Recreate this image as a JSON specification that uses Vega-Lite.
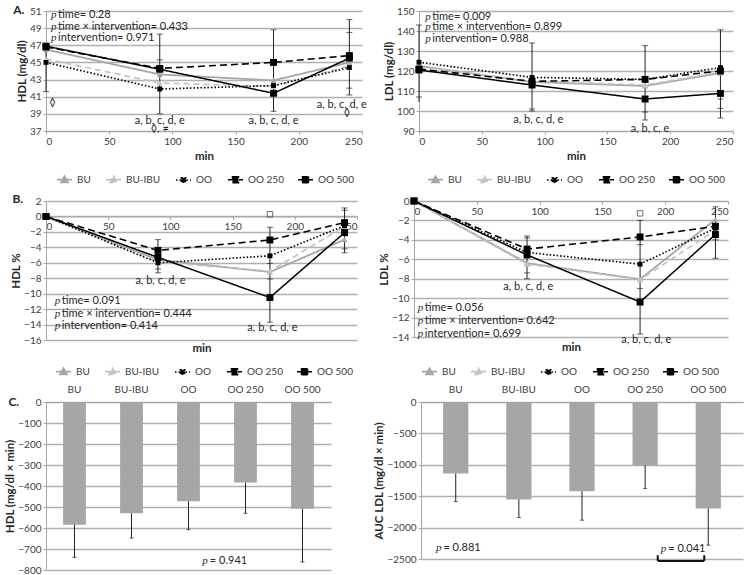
{
"$schema": "https://vega.github.io/schema/vega-lite/v6.json",
"padding": {"left": 4, "top": 4, "right": 2, "bottom": 2},
"config": {
  "font": "Lato",
  "view": {"stroke": null},
  "axis": {"labelFontSize": 10, "labelColor": "#404040", "titleFontSize": 11.5, "titleColor": "#262626", "titleFontWeight": "bold", "domainColor": "#a6a6a6", "tickColor": "#a6a6a6", "gridColor": "#b0b0b0", "gridWidth": 1.3, "labelPadding": 2, "titlePadding": 2},
  "legend": {"labelFontSize": 10, "labelColor": "#404040", "symbolStrokeWidth": 1.5, "symbolSize": 225, "columnPadding": 11, "labelOffset": 4, "symbolType": "M-1,0H1M-0.4,-0.4H0.4V0.4H-0.4Z"},
  "text": {"font": "Lato", "fontSize": 11, "color": "#262626"}
},
"datasets": {
  "hdl": [
    {"g": "BU", "t": 0, "v": 46.5}, {"g": "BU", "t": 90, "v": 43.6}, {"g": "BU", "t": 180, "v": 42.9}, {"g": "BU", "t": 240, "v": 45.0},
    {"g": "BU-IBU", "t": 0, "v": 45.4}, {"g": "BU-IBU", "t": 90, "v": 42.6}, {"g": "BU-IBU", "t": 180, "v": 42.2}, {"g": "BU-IBU", "t": 240, "v": 44.6},
    {"g": "OO", "t": 0, "v": 45.0}, {"g": "OO", "t": 90, "v": 41.9}, {"g": "OO", "t": 180, "v": 42.3}, {"g": "OO", "t": 240, "v": 44.4},
    {"g": "OO 250", "t": 0, "v": 46.8}, {"g": "OO 250", "t": 90, "v": 44.3}, {"g": "OO 250", "t": 180, "v": 45.0}, {"g": "OO 250", "t": 240, "v": 45.8},
    {"g": "OO 500", "t": 0, "v": 46.9}, {"g": "OO 500", "t": 90, "v": 44.2}, {"g": "OO 500", "t": 180, "v": 41.4}, {"g": "OO 500", "t": 240, "v": 45.5}
  ],
  "hdlErr": [{"t": 0, "v": 41.6, "v2": 47}, {"t": 90, "v": 39.0, "v2": 48.3}, {"t": 180, "v": 39.3, "v2": 48.8}, {"t": 240, "v": 41.2, "v2": 50.0}],
  "hdlCap": [{"t": 0, "v": 41.6}, {"t": 90, "v": 39.0}, {"t": 90, "v": 48.3}, {"t": 90, "v": 45.3}, {"t": 180, "v": 39.3}, {"t": 180, "v": 48.8}, {"t": 240, "v": 41.2}, {"t": 240, "v": 50.0}, {"t": 240, "v": 48.5}, {"t": 240, "v": 42.0}],
  "hdlP": [{"t": 4, "v": 50.5, "s": "time= 0.28"}, {"t": 4, "v": 49.1, "s": "time × intervention= 0.433"}, {"t": 4, "v": 47.8, "s": "intervention= 0.971"}],
  "hdlTxt": [{"t": 90, "v": 38.2, "s": "a, b, c, d, e"}, {"t": 90, "v": 37.2, "s": "◊, ≠"}, {"t": 180, "v": 38.2, "s": "a, b, c, d, e"}, {"t": 234, "v": 40.0, "s": "a, b, c, d, e"}, {"t": 238, "v": 39.15, "s": "◊"}, {"t": 5, "v": 40.3, "s": "◊"}],
  "hdlLab": [{"t": -26, "v": 51.1, "s": "A."}],
  "ldl": [
    {"g": "BU", "t": 0, "v": 122.5}, {"g": "BU", "t": 90, "v": 114.5}, {"g": "BU", "t": 180, "v": 112.5}, {"g": "BU", "t": 240, "v": 119.0},
    {"g": "BU-IBU", "t": 0, "v": 122.0}, {"g": "BU-IBU", "t": 90, "v": 115.0}, {"g": "BU-IBU", "t": 180, "v": 113.0}, {"g": "BU-IBU", "t": 240, "v": 119.5},
    {"g": "OO", "t": 0, "v": 124.4}, {"g": "OO", "t": 90, "v": 116.8}, {"g": "OO", "t": 180, "v": 115.8}, {"g": "OO", "t": 240, "v": 121.7},
    {"g": "OO 250", "t": 0, "v": 121.0}, {"g": "OO 250", "t": 90, "v": 114.8}, {"g": "OO 250", "t": 180, "v": 115.8}, {"g": "OO 250", "t": 240, "v": 120.0},
    {"g": "OO 500", "t": 0, "v": 120.5}, {"g": "OO 500", "t": 90, "v": 113.0}, {"g": "OO 500", "t": 180, "v": 106.0}, {"g": "OO 500", "t": 240, "v": 108.8}
  ],
  "ldlErr": [{"t": 0, "v": 104.5, "v2": 143}, {"t": 90, "v": 100, "v2": 134}, {"t": 180, "v": 95.5, "v2": 132.7}, {"t": 240, "v": 96.5, "v2": 140.6}],
  "ldlCap": [{"t": 0, "v": 143}, {"t": 0, "v": 107}, {"t": 90, "v": 134}, {"t": 90, "v": 101}, {"t": 90, "v": 100}, {"t": 180, "v": 132.7}, {"t": 180, "v": 99.5}, {"t": 180, "v": 95.5}, {"t": 240, "v": 140.6}, {"t": 240, "v": 106}, {"t": 240, "v": 101.3}, {"t": 240, "v": 96.5}],
  "ldlP": [{"t": 5, "v": 147.1, "s": "time= 0.009"}, {"t": 5, "v": 142.0, "s": "time × intervention= 0.899"}, {"t": 5, "v": 136.2, "s": "intervention= 0.988"}],
  "ldlTxt": [{"t": 95, "v": 95.7, "s": "a, b, c, d, e"}, {"t": 184, "v": 90.9, "s": "a, b, c, e"}],
  "hdlp": [
    {"g": "BU", "t": 0, "v": 0}, {"g": "BU", "t": 90, "v": -5.6}, {"g": "BU", "t": 180, "v": -7.2}, {"g": "BU", "t": 240, "v": -3.0},
    {"g": "BU-IBU", "t": 0, "v": 0}, {"g": "BU-IBU", "t": 90, "v": -5.9}, {"g": "BU-IBU", "t": 180, "v": -7.1}, {"g": "BU-IBU", "t": 240, "v": -1.3},
    {"g": "OO", "t": 0, "v": 0}, {"g": "OO", "t": 90, "v": -6.0}, {"g": "OO", "t": 180, "v": -5.1}, {"g": "OO", "t": 240, "v": -1.2},
    {"g": "OO 250", "t": 0, "v": 0}, {"g": "OO 250", "t": 90, "v": -4.4}, {"g": "OO 250", "t": 180, "v": -3.05}, {"g": "OO 250", "t": 240, "v": -0.8},
    {"g": "OO 500", "t": 0, "v": 0}, {"g": "OO 500", "t": 90, "v": -5.3}, {"g": "OO 500", "t": 180, "v": -10.5}, {"g": "OO 500", "t": 240, "v": -2.1}
  ],
  "hdlpErr": [{"t": 90, "v": -7.3, "v2": -3.0}, {"t": 180, "v": -13.7, "v2": -1.4}, {"t": 240, "v": -4.7, "v2": 1.1}],
  "hdlpCap": [{"t": 90, "v": -7.3}, {"t": 90, "v": -6.8}, {"t": 90, "v": -3.0}, {"t": 180, "v": -13.7}, {"t": 180, "v": -8.1}, {"t": 180, "v": -6.1}, {"t": 180, "v": -1.4}, {"t": 240, "v": -4.7}, {"t": 240, "v": -4.2}, {"t": 240, "v": 0.8}, {"t": 240, "v": 1.1}],
  "hdlpP": [{"t": 7, "v": -10.95, "s": "time= 0.091"}, {"t": 7, "v": -12.6, "s": "time × intervention= 0.444"}, {"t": 7, "v": -14.2, "s": "intervention= 0.414"}],
  "hdlpTxt": [{"t": 92, "v": -8.4, "s": "a, b, c, d, e"}, {"t": 182, "v": -14.5, "s": "a, b, c, d, e"}],
  "hdlpSq": [{"t": 180, "v": 0.28}],
  "hdlpLab": [{"t": -27, "v": 2.3, "s": "B."}],
  "ldlp": [
    {"g": "BU", "t": 0, "v": 0}, {"g": "BU", "t": 90, "v": -6.4}, {"g": "BU", "t": 180, "v": -8.05}, {"g": "BU", "t": 240, "v": -1.9},
    {"g": "BU-IBU", "t": 0, "v": 0}, {"g": "BU-IBU", "t": 90, "v": -6.5}, {"g": "BU-IBU", "t": 180, "v": -8.1}, {"g": "BU-IBU", "t": 240, "v": -3.0},
    {"g": "OO", "t": 0, "v": 0}, {"g": "OO", "t": 90, "v": -5.3}, {"g": "OO", "t": 180, "v": -6.5}, {"g": "OO", "t": 240, "v": -2.8},
    {"g": "OO 250", "t": 0, "v": 0}, {"g": "OO 250", "t": 90, "v": -4.95}, {"g": "OO 250", "t": 180, "v": -3.7}, {"g": "OO 250", "t": 240, "v": -2.6},
    {"g": "OO 500", "t": 0, "v": 0}, {"g": "OO 500", "t": 90, "v": -5.55}, {"g": "OO 500", "t": 180, "v": -10.4}, {"g": "OO 500", "t": 240, "v": -3.45}
  ],
  "ldlpErr": [{"t": 90, "v": -8.0, "v2": -3.6}, {"t": 180, "v": -13.7, "v2": -2.0}, {"t": 240, "v": -5.9, "v2": -0.6}],
  "ldlpCap": [{"t": 90, "v": -8.0}, {"t": 90, "v": -7.4}, {"t": 90, "v": -3.8}, {"t": 90, "v": -3.6}, {"t": 180, "v": -13.7}, {"t": 180, "v": -9.0}, {"t": 180, "v": -4.5}, {"t": 180, "v": -2.0}, {"t": 240, "v": -5.9}, {"t": 240, "v": -4.0}, {"t": 240, "v": -0.6}],
  "ldlpP": [{"t": 3, "v": -11.05, "s": "time= 0.056"}, {"t": 3, "v": -12.4, "s": "time × intervention= 0.642"}, {"t": 3, "v": -13.65, "s": "intervention= 0.699"}],
  "ldlpTxt": [{"t": 91, "v": -8.85, "s": "a, b, c, d, e"}, {"t": 185, "v": -14.3, "s": "a, b, c, d, e"}],
  "ldlpSq": [{"t": 180, "v": -1.27}],
  "aucH": [{"g": "BU", "v": -584, "e": -740}, {"g": "BU-IBU", "v": -530, "e": -648}, {"g": "OO", "v": -473, "e": -608}, {"g": "OO 250", "v": -383, "e": -530}, {"g": "OO 500", "v": -508, "e": -762}],
  "aucL": [{"g": "BU", "v": -1140, "e": -1585}, {"g": "BU-IBU", "v": -1553, "e": -1840}, {"g": "OO", "v": -1420, "e": -1882}, {"g": "OO 250", "v": -1007, "e": -1378}, {"g": "OO 500", "v": -1695, "e": -2280}]
},
"resolve": {"scale": {"color": "independent", "strokeDash": "independent", "strokeWidth": "independent"}, "legend": {"color": "independent", "strokeDash": "independent"}},
"columns": 1,
"align": "none",
"spacing": 6,
"concat": [
 {
  "spacing": 16,
  "resolve": {"scale": {"color": "independent", "strokeDash": "independent", "strokeWidth": "independent"}, "legend": {"color": "independent", "strokeDash": "independent"}},
  "hconcat": [
   {
    "width": 316, "height": 120,
    "encoding": {
      "x": {"field": "t", "type": "quantitative", "scale": {"domain": [0, 250]}, "axis": {"values": [0, 50, 100, 150, 200, 250], "grid": false, "title": "min", "tickSize": 3, "titlePadding": 4}},
      "y": {"field": "v", "type": "quantitative", "scale": {"domain": [37, 51]}, "axis": {"values": [37, 39, 41, 43, 45, 47, 49, 51], "title": "HDL (mg/dl)", "tickSize": 3}}
    },
    "layer": [
      {"data": {"name": "hdlErr"}, "mark": {"type": "rule", "color": "#222", "strokeWidth": 1}, "encoding": {"y2": {"field": "v2"}}},
      {"data": {"name": "hdlCap"}, "mark": {"type": "tick", "orient": "horizontal", "size": 6, "thickness": 1, "color": "#222"}},
      {"data": {"name": "hdl"}, "mark": {"type": "line"},
       "encoding": {
         "color": {"field": "g", "type": "nominal", "scale": {"domain": ["BU", "BU-IBU", "OO", "OO 250", "OO 500"], "range": ["#a6a6a6", "#c4c4c4", "#000000", "#000000", "#000000"]}, "legend": {"orient": "none", "legendX": 10, "legendY": 160, "direction": "horizontal", "title": null, "encode": {"symbols": {"update": {"shape": {"signal": "datum.value === 'BU' || datum.value === 'BU-IBU' ? 'M-1,0H1M0,-0.45L0.45,0.35H-0.45Z' : datum.value === 'OO' ? 'M-1,0H1M-0.3,-0.3H0.3V0.3H-0.3Z' : 'M-1,0H1M-0.4,-0.4H0.4V0.4H-0.4Z'"}, "fill": {"signal": "datum.value === 'BU' ? '#a6a6a6' : datum.value === 'BU-IBU' ? '#c4c4c4' : '#000'"}}}}}},
         "strokeDash": {"field": "g", "type": "nominal", "scale": {"domain": ["BU", "BU-IBU", "OO", "OO 250", "OO 500"], "range": [[1, 0], [6, 4], [1.5, 2], [7, 4], [1, 0]]}, "legend": {"orient": "none", "legendX": 10, "legendY": 160, "direction": "horizontal", "title": null, "encode": {"symbols": {"update": {"shape": {"signal": "datum.value === 'BU' || datum.value === 'BU-IBU' ? 'M-1,0H1M0,-0.45L0.45,0.35H-0.45Z' : datum.value === 'OO' ? 'M-1,0H1M-0.3,-0.3H0.3V0.3H-0.3Z' : 'M-1,0H1M-0.4,-0.4H0.4V0.4H-0.4Z'"}, "fill": {"signal": "datum.value === 'BU' ? '#a6a6a6' : datum.value === 'BU-IBU' ? '#c4c4c4' : '#000'"}}}}}},
         "strokeWidth": {"field": "g", "type": "nominal", "scale": {"domain": ["BU", "BU-IBU", "OO", "OO 250", "OO 500"], "range": [1.8, 1.5, 1.2, 2, 2]}, "legend": null}
       }},
      {"data": {"name": "hdl"}, "transform": [{"filter": "datum.g === 'BU' || datum.g === 'BU-IBU'"}], "mark": {"type": "point", "shape": "triangle-up", "filled": true, "size": 35, "opacity": 1}, "encoding": {"color": {"field": "g", "type": "nominal", "scale": {"domain": ["BU", "BU-IBU", "OO", "OO 250", "OO 500"], "range": ["#a6a6a6", "#c4c4c4", "#000000", "#000000", "#000000"]}}}},
      {"data": {"name": "hdl"}, "transform": [{"filter": "datum.g === 'OO'"}], "mark": {"type": "point", "shape": "square", "filled": true, "size": 24, "opacity": 1, "color": "#000"}},
      {"data": {"name": "hdl"}, "transform": [{"filter": "datum.g === 'OO 250' || datum.g === 'OO 500'"}], "mark": {"type": "point", "shape": "square", "filled": true, "size": 48, "opacity": 1, "color": "#000"}},
      {"data": {"name": "hdlP"}, "mark": {"type": "text", "align": "left", "fontStyle": "italic", "font": "Liberation Serif", "fontSize": 11}, "encoding": {"text": {"value": "p"}}},
      {"data": {"name": "hdlP"}, "mark": {"type": "text", "align": "left", "dx": 7}, "encoding": {"text": {"field": "s"}}},
      {"data": {"name": "hdlTxt"}, "mark": {"type": "text", "align": "center"}, "encoding": {"text": {"field": "s"}}},
      {"data": {"name": "hdlLab"}, "mark": {"type": "text", "align": "left", "fontWeight": "bold", "fontSize": 12}, "encoding": {"text": {"field": "s"}}}
    ]
   },
   {
    "width": 314, "height": 120,
    "encoding": {
      "x": {"field": "t", "type": "quantitative", "scale": {"domain": [0, 250]}, "axis": {"values": [0, 50, 100, 150, 200, 250], "grid": false, "title": "min", "tickSize": 3, "titlePadding": 4}},
      "y": {"field": "v", "type": "quantitative", "scale": {"domain": [90, 150]}, "axis": {"values": [90, 100, 110, 120, 130, 140, 150], "title": "LDL (mg/dl)", "tickSize": 3}}
    },
    "layer": [
      {"data": {"name": "ldlErr"}, "mark": {"type": "rule", "color": "#222", "strokeWidth": 1}, "encoding": {"y2": {"field": "v2"}}},
      {"data": {"name": "ldlCap"}, "mark": {"type": "tick", "orient": "horizontal", "size": 6, "thickness": 1, "color": "#222"}},
      {"data": {"name": "ldl"}, "mark": {"type": "line"},
       "encoding": {
         "color": {"field": "g", "type": "nominal", "scale": {"domain": ["BU", "BU-IBU", "OO", "OO 250", "OO 500"], "range": ["#a6a6a6", "#c4c4c4", "#000000", "#000000", "#000000"]}, "legend": {"orient": "none", "legendX": 8, "legendY": 160, "direction": "horizontal", "title": null, "encode": {"symbols": {"update": {"shape": {"signal": "datum.value === 'BU' || datum.value === 'BU-IBU' ? 'M-1,0H1M0,-0.45L0.45,0.35H-0.45Z' : datum.value === 'OO' ? 'M-1,0H1M-0.3,-0.3H0.3V0.3H-0.3Z' : 'M-1,0H1M-0.4,-0.4H0.4V0.4H-0.4Z'"}, "fill": {"signal": "datum.value === 'BU' ? '#a6a6a6' : datum.value === 'BU-IBU' ? '#c4c4c4' : '#000'"}}}}}},
         "strokeDash": {"field": "g", "type": "nominal", "scale": {"domain": ["BU", "BU-IBU", "OO", "OO 250", "OO 500"], "range": [[1, 0], [6, 4], [1.5, 2], [7, 4], [1, 0]]}, "legend": {"orient": "none", "legendX": 8, "legendY": 160, "direction": "horizontal", "title": null, "encode": {"symbols": {"update": {"shape": {"signal": "datum.value === 'BU' || datum.value === 'BU-IBU' ? 'M-1,0H1M0,-0.45L0.45,0.35H-0.45Z' : datum.value === 'OO' ? 'M-1,0H1M-0.3,-0.3H0.3V0.3H-0.3Z' : 'M-1,0H1M-0.4,-0.4H0.4V0.4H-0.4Z'"}, "fill": {"signal": "datum.value === 'BU' ? '#a6a6a6' : datum.value === 'BU-IBU' ? '#c4c4c4' : '#000'"}}}}}},
         "strokeWidth": {"field": "g", "type": "nominal", "scale": {"domain": ["BU", "BU-IBU", "OO", "OO 250", "OO 500"], "range": [1.8, 1.5, 1.2, 2, 2]}, "legend": null}
       }},
      {"data": {"name": "ldl"}, "transform": [{"filter": "datum.g === 'BU' || datum.g === 'BU-IBU'"}], "mark": {"type": "point", "shape": "triangle-up", "filled": true, "size": 35, "opacity": 1}, "encoding": {"color": {"field": "g", "type": "nominal", "scale": {"domain": ["BU", "BU-IBU", "OO", "OO 250", "OO 500"], "range": ["#a6a6a6", "#c4c4c4", "#000000", "#000000", "#000000"]}}}},
      {"data": {"name": "ldl"}, "transform": [{"filter": "datum.g === 'OO'"}], "mark": {"type": "point", "shape": "square", "filled": true, "size": 24, "opacity": 1, "color": "#000"}},
      {"data": {"name": "ldl"}, "transform": [{"filter": "datum.g === 'OO 250' || datum.g === 'OO 500'"}], "mark": {"type": "point", "shape": "square", "filled": true, "size": 48, "opacity": 1, "color": "#000"}},
      {"data": {"name": "ldlP"}, "mark": {"type": "text", "align": "left", "fontStyle": "italic", "font": "Liberation Serif", "fontSize": 11}, "encoding": {"text": {"value": "p"}}},
      {"data": {"name": "ldlP"}, "mark": {"type": "text", "align": "left", "dx": 7}, "encoding": {"text": {"field": "s"}}},
      {"data": {"name": "ldlTxt"}, "mark": {"type": "text", "align": "center"}, "encoding": {"text": {"field": "s"}}}
    ]
   }
  ]
 },
 {
  "spacing": 20,
  "resolve": {"scale": {"color": "independent", "strokeDash": "independent", "strokeWidth": "independent"}, "legend": {"color": "independent", "strokeDash": "independent"}},
  "hconcat": [
   {
    "width": 311, "height": 139,
    "encoding": {
      "x": {"field": "t", "type": "quantitative", "scale": {"domain": [0, 250]}, "axis": {"values": [0, 50, 100, 150, 200, 250], "grid": false, "title": "min", "tickSize": 3, "offset": -123.6, "titleY": 126}},
      "y": {"field": "v", "type": "quantitative", "scale": {"domain": [-16, 2]}, "axis": {"values": [-16, -14, -12, -10, -8, -6, -4, -2, 0, 2], "title": "HDL %", "tickSize": 3}}
    },
    "layer": [
      {"data": {"name": "hdlpErr"}, "mark": {"type": "rule", "color": "#222", "strokeWidth": 1}, "encoding": {"y2": {"field": "v2"}}},
      {"data": {"name": "hdlpCap"}, "mark": {"type": "tick", "orient": "horizontal", "size": 6, "thickness": 1, "color": "#222"}},
      {"data": {"name": "hdlp"}, "mark": {"type": "line"},
       "encoding": {
         "color": {"field": "g", "type": "nominal", "scale": {"domain": ["BU", "BU-IBU", "OO", "OO 250", "OO 500"], "range": ["#a6a6a6", "#c4c4c4", "#000000", "#000000", "#000000"]}, "legend": {"orient": "none", "legendX": 9, "legendY": 162, "direction": "horizontal", "title": null, "encode": {"symbols": {"update": {"shape": {"signal": "datum.value === 'BU' || datum.value === 'BU-IBU' ? 'M-1,0H1M0,-0.45L0.45,0.35H-0.45Z' : datum.value === 'OO' ? 'M-1,0H1M-0.3,-0.3H0.3V0.3H-0.3Z' : 'M-1,0H1M-0.4,-0.4H0.4V0.4H-0.4Z'"}, "fill": {"signal": "datum.value === 'BU' ? '#a6a6a6' : datum.value === 'BU-IBU' ? '#c4c4c4' : '#000'"}}}}}},
         "strokeDash": {"field": "g", "type": "nominal", "scale": {"domain": ["BU", "BU-IBU", "OO", "OO 250", "OO 500"], "range": [[1, 0], [6, 4], [1.5, 2], [7, 4], [1, 0]]}, "legend": {"orient": "none", "legendX": 9, "legendY": 162, "direction": "horizontal", "title": null, "encode": {"symbols": {"update": {"shape": {"signal": "datum.value === 'BU' || datum.value === 'BU-IBU' ? 'M-1,0H1M0,-0.45L0.45,0.35H-0.45Z' : datum.value === 'OO' ? 'M-1,0H1M-0.3,-0.3H0.3V0.3H-0.3Z' : 'M-1,0H1M-0.4,-0.4H0.4V0.4H-0.4Z'"}, "fill": {"signal": "datum.value === 'BU' ? '#a6a6a6' : datum.value === 'BU-IBU' ? '#c4c4c4' : '#000'"}}}}}},
         "strokeWidth": {"field": "g", "type": "nominal", "scale": {"domain": ["BU", "BU-IBU", "OO", "OO 250", "OO 500"], "range": [1.8, 1.5, 1.2, 2, 2]}, "legend": null}
       }},
      {"data": {"name": "hdlp"}, "transform": [{"filter": "datum.g === 'BU' || datum.g === 'BU-IBU'"}], "mark": {"type": "point", "shape": "triangle-up", "filled": true, "size": 35, "opacity": 1}, "encoding": {"color": {"field": "g", "type": "nominal", "scale": {"domain": ["BU", "BU-IBU", "OO", "OO 250", "OO 500"], "range": ["#a6a6a6", "#c4c4c4", "#000000", "#000000", "#000000"]}}}},
      {"data": {"name": "hdlp"}, "transform": [{"filter": "datum.g === 'OO'"}], "mark": {"type": "point", "shape": "square", "filled": true, "size": 24, "opacity": 1, "color": "#000"}},
      {"data": {"name": "hdlp"}, "transform": [{"filter": "datum.g === 'OO 250' || datum.g === 'OO 500'"}], "mark": {"type": "point", "shape": "square", "filled": true, "size": 48, "opacity": 1, "color": "#000"}},
      {"data": {"name": "hdlpSq"}, "mark": {"type": "point", "shape": "square", "filled": false, "size": 30, "color": "#333", "strokeWidth": 1}},
      {"data": {"name": "hdlpP"}, "mark": {"type": "text", "align": "left", "fontStyle": "italic", "font": "Liberation Serif", "fontSize": 11}, "encoding": {"text": {"value": "p"}}},
      {"data": {"name": "hdlpP"}, "mark": {"type": "text", "align": "left", "dx": 7}, "encoding": {"text": {"field": "s"}}},
      {"data": {"name": "hdlpTxt"}, "mark": {"type": "text", "align": "center"}, "encoding": {"text": {"field": "s"}}},
      {"data": {"name": "hdlpLab"}, "mark": {"type": "text", "align": "left", "fontWeight": "bold", "fontSize": 12}, "encoding": {"text": {"field": "s"}}}
    ]
   },
   {
    "width": 314, "height": 136,
    "encoding": {
      "x": {"field": "t", "type": "quantitative", "scale": {"domain": [0, 250]}, "axis": {"values": [0, 50, 100, 150, 200, 250], "grid": false, "title": "min", "tickSize": 3, "offset": -136, "titleY": 140}},
      "y": {"field": "v", "type": "quantitative", "scale": {"domain": [-14, 0]}, "axis": {"values": [-14, -12, -10, -8, -6, -4, -2, 0], "title": "LDL %", "tickSize": 3}}
    },
    "layer": [
      {"data": {"name": "ldlpErr"}, "mark": {"type": "rule", "color": "#222", "strokeWidth": 1}, "encoding": {"y2": {"field": "v2"}}},
      {"data": {"name": "ldlpCap"}, "mark": {"type": "tick", "orient": "horizontal", "size": 6, "thickness": 1, "color": "#222"}},
      {"data": {"name": "ldlp"}, "mark": {"type": "line"},
       "encoding": {
         "color": {"field": "g", "type": "nominal", "scale": {"domain": ["BU", "BU-IBU", "OO", "OO 250", "OO 500"], "range": ["#a6a6a6", "#c4c4c4", "#000000", "#000000", "#000000"]}, "legend": {"orient": "none", "legendX": 7, "legendY": 162, "direction": "horizontal", "title": null, "encode": {"symbols": {"update": {"shape": {"signal": "datum.value === 'BU' || datum.value === 'BU-IBU' ? 'M-1,0H1M0,-0.45L0.45,0.35H-0.45Z' : datum.value === 'OO' ? 'M-1,0H1M-0.3,-0.3H0.3V0.3H-0.3Z' : 'M-1,0H1M-0.4,-0.4H0.4V0.4H-0.4Z'"}, "fill": {"signal": "datum.value === 'BU' ? '#a6a6a6' : datum.value === 'BU-IBU' ? '#c4c4c4' : '#000'"}}}}}},
         "strokeDash": {"field": "g", "type": "nominal", "scale": {"domain": ["BU", "BU-IBU", "OO", "OO 250", "OO 500"], "range": [[1, 0], [6, 4], [1.5, 2], [7, 4], [1, 0]]}, "legend": {"orient": "none", "legendX": 7, "legendY": 162, "direction": "horizontal", "title": null, "encode": {"symbols": {"update": {"shape": {"signal": "datum.value === 'BU' || datum.value === 'BU-IBU' ? 'M-1,0H1M0,-0.45L0.45,0.35H-0.45Z' : datum.value === 'OO' ? 'M-1,0H1M-0.3,-0.3H0.3V0.3H-0.3Z' : 'M-1,0H1M-0.4,-0.4H0.4V0.4H-0.4Z'"}, "fill": {"signal": "datum.value === 'BU' ? '#a6a6a6' : datum.value === 'BU-IBU' ? '#c4c4c4' : '#000'"}}}}}},
         "strokeWidth": {"field": "g", "type": "nominal", "scale": {"domain": ["BU", "BU-IBU", "OO", "OO 250", "OO 500"], "range": [1.8, 1.5, 1.2, 2, 2]}, "legend": null}
       }},
      {"data": {"name": "ldlp"}, "transform": [{"filter": "datum.g === 'BU' || datum.g === 'BU-IBU'"}], "mark": {"type": "point", "shape": "triangle-up", "filled": true, "size": 35, "opacity": 1}, "encoding": {"color": {"field": "g", "type": "nominal", "scale": {"domain": ["BU", "BU-IBU", "OO", "OO 250", "OO 500"], "range": ["#a6a6a6", "#c4c4c4", "#000000", "#000000", "#000000"]}}}},
      {"data": {"name": "ldlp"}, "transform": [{"filter": "datum.g === 'OO'"}], "mark": {"type": "point", "shape": "square", "filled": true, "size": 24, "opacity": 1, "color": "#000"}},
      {"data": {"name": "ldlp"}, "transform": [{"filter": "datum.g === 'OO 250' || datum.g === 'OO 500'"}], "mark": {"type": "point", "shape": "square", "filled": true, "size": 48, "opacity": 1, "color": "#000"}},
      {"data": {"name": "ldlpSq"}, "mark": {"type": "point", "shape": "square", "filled": false, "size": 30, "color": "#333", "strokeWidth": 1}},
      {"data": {"name": "ldlpP"}, "mark": {"type": "text", "align": "left", "fontStyle": "italic", "font": "Liberation Serif", "fontSize": 11}, "encoding": {"text": {"value": "p"}}},
      {"data": {"name": "ldlpP"}, "mark": {"type": "text", "align": "left", "dx": 7}, "encoding": {"text": {"field": "s"}}},
      {"data": {"name": "ldlpTxt"}, "mark": {"type": "text", "align": "center"}, "encoding": {"text": {"field": "s"}}}
    ]
   }
  ]
 },
 {
  "spacing": 42,
  "hconcat": [
   {
    "width": 285, "height": 168,
    "data": {"name": "aucH"},
    "encoding": {
      "x": {"field": "g", "type": "nominal", "sort": null, "scale": {"paddingInner": 0.6, "paddingOuter": 0.3}, "axis": {"orient": "top", "title": null, "labelAngle": 0, "ticks": false, "labelPadding": 8}},
      "y": {"field": "v", "type": "quantitative", "scale": {"domain": [-800, 0]}, "axis": {"values": [-800, -700, -600, -500, -400, -300, -200, -100, 0], "title": "HDL (mg/dl × min)", "tickSize": 3}}
    },
    "layer": [
      {"mark": {"type": "bar", "color": "#a6a6a6"}},
      {"mark": {"type": "rule", "color": "#222", "strokeWidth": 1}, "encoding": {"y2": {"field": "e"}}},
      {"mark": {"type": "tick", "orient": "horizontal", "size": 4, "thickness": 1, "color": "#222"}, "encoding": {"y": {"field": "e", "type": "quantitative"}}},
      {"data": {"values": [{"g": "OO", "v": -756, "s": "= 0.941"}]}, "mark": {"type": "text", "align": "left", "dx": -6}, "encoding": {"x": {"field": "g", "type": "nominal", "bandPosition": 1.7}, "text": {"field": "s"}}},
      {"data": {"values": [{"g": "OO", "v": -756}]}, "mark": {"type": "text", "align": "right", "dx": -8, "fontStyle": "italic", "font": "Liberation Serif"}, "encoding": {"x": {"field": "g", "type": "nominal", "bandPosition": 1.7}, "text": {"value": "p"}}},
      {"data": {"values": [{"g": "BU", "v": 0, "s": "C."}]}, "mark": {"type": "text", "align": "left", "fontWeight": "bold", "fontSize": 12}, "encoding": {"x": {"field": "g", "type": "nominal", "bandPosition": -2.4}, "text": {"field": "s"}}}
    ]
   },
   {
    "width": 322, "height": 157,
    "data": {"name": "aucL"},
    "encoding": {
      "x": {"field": "g", "type": "nominal", "sort": null, "scale": {"paddingInner": 0.6, "paddingOuter": 0.35}, "axis": {"orient": "top", "title": null, "labelAngle": 0, "ticks": false, "labelPadding": 8}},
      "y": {"field": "v", "type": "quantitative", "scale": {"domain": [-2500, 0]}, "axis": {"values": [-2500, -2000, -1500, -1000, -500, 0], "title": "AUC LDL (mg/dl × min)", "tickSize": 3, "format": "d"}}
    },
    "layer": [
      {"mark": {"type": "bar", "color": "#a6a6a6"}},
      {"mark": {"type": "rule", "color": "#222", "strokeWidth": 1}, "encoding": {"y2": {"field": "e"}}},
      {"mark": {"type": "tick", "orient": "horizontal", "size": 4, "thickness": 1, "color": "#222"}, "encoding": {"y": {"field": "e", "type": "quantitative"}}},
      {"data": {"values": [{"g": "BU", "v": -2318, "s": "= 0.881"}]}, "mark": {"type": "text", "align": "left", "dx": -6}, "encoding": {"x": {"field": "g", "type": "nominal", "bandPosition": 0.25}, "text": {"field": "s"}}},
      {"data": {"values": [{"g": "BU", "v": -2318}]}, "mark": {"type": "text", "align": "right", "dx": -8, "fontStyle": "italic", "font": "Liberation Serif"}, "encoding": {"x": {"field": "g", "type": "nominal", "bandPosition": 0.25}, "text": {"value": "p"}}},
      {"data": {"values": [{"g": "OO 250", "v": -2345, "s": "= 0.041"}]}, "mark": {"type": "text", "align": "left", "dx": -6}, "encoding": {"x": {"field": "g", "type": "nominal", "bandPosition": 1.65}, "text": {"field": "s"}}},
      {"data": {"values": [{"g": "OO 250", "v": -2345}]}, "mark": {"type": "text", "align": "right", "dx": -8, "fontStyle": "italic", "font": "Liberation Serif"}, "encoding": {"x": {"field": "g", "type": "nominal", "bandPosition": 1.65}, "text": {"value": "p"}}},
      {"data": {"values": [{"g": "OO 250", "g2": "OO 500", "v": -2530}]}, "mark": {"type": "rule", "color": "#111", "strokeWidth": 2}, "encoding": {"x": {"field": "g", "type": "nominal", "bandPosition": 1.0}, "x2": {"field": "g2", "bandPosition": 0.34}}},
      {"data": {"values": [{"g": "OO 250", "v": -2530, "v2": -2440}]}, "mark": {"type": "rule", "color": "#111", "strokeWidth": 2}, "encoding": {"x": {"field": "g", "type": "nominal", "bandPosition": 1.0}, "y2": {"field": "v2"}}},
      {"data": {"values": [{"g": "OO 500", "v": -2530, "v2": -2440}]}, "mark": {"type": "rule", "color": "#111", "strokeWidth": 2}, "encoding": {"x": {"field": "g", "type": "nominal", "bandPosition": 0.34}, "y2": {"field": "v2"}}}
    ]
   }
  ]
 }
]
}
